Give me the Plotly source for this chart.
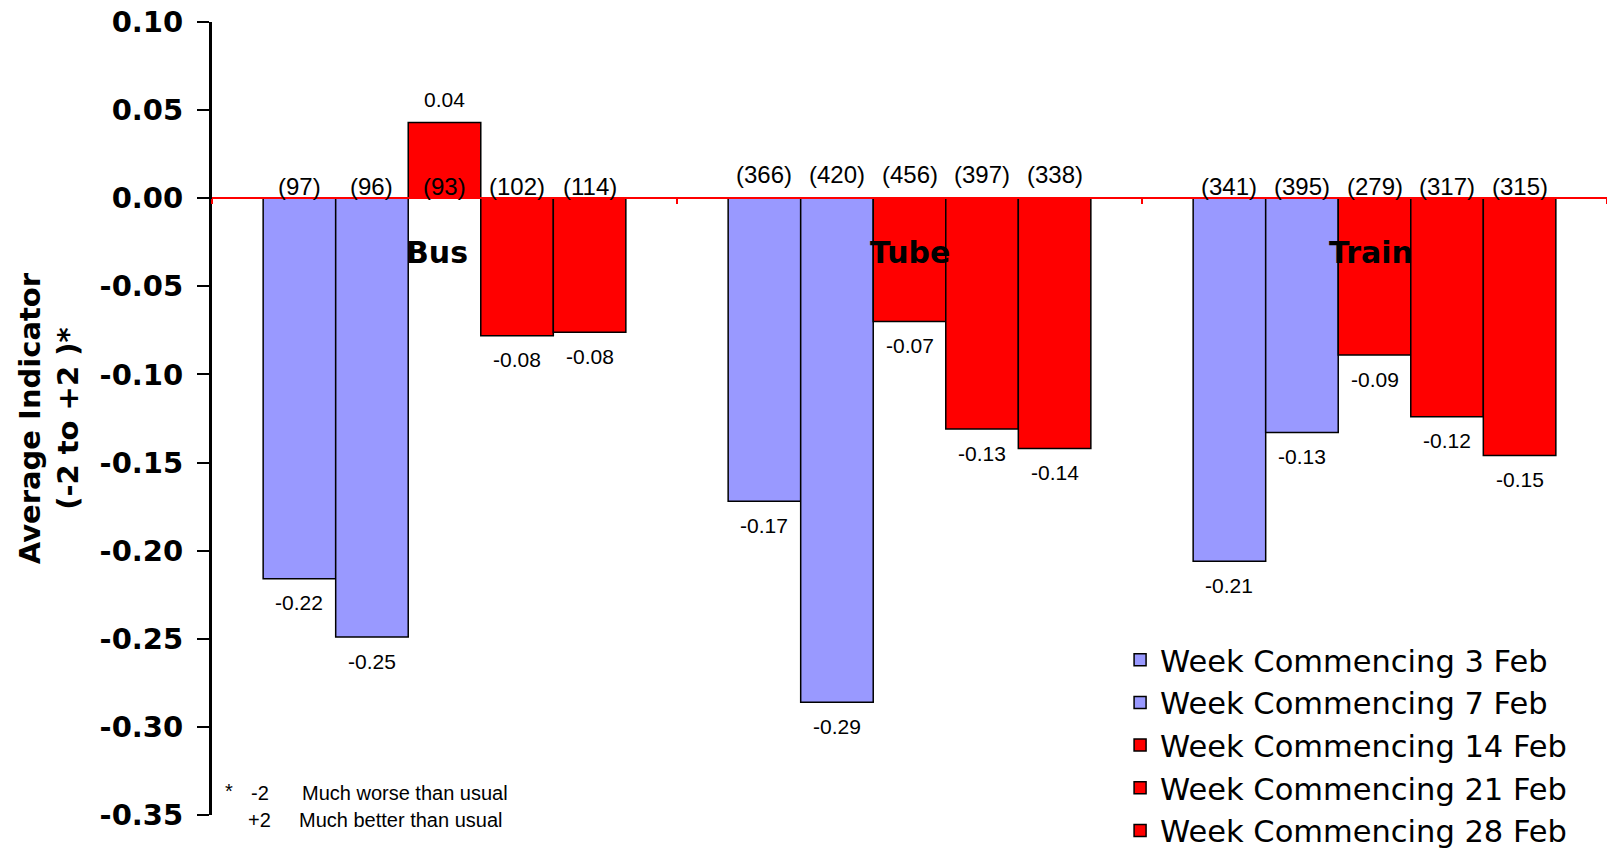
import plotly.graph_objects as go

# Mode of transport groups
categories = ["Bus", "Tube", "Train"]

# Survey weeks (legend entries)
weeks = [
    "Week Commencing 3 Feb",
    "Week Commencing 7 Feb",
    "Week Commencing 14 Feb",
    "Week Commencing 21 Feb",
    "Week Commencing 28 Feb",
]

# Average indicator per week, ordered Bus / Tube / Train
score_3feb = [-0.216, -0.172, -0.206]
score_7feb = [-0.249, -0.286, -0.133]
score_14feb = [0.043, -0.070, -0.089]
score_21feb = [-0.078, -0.131, -0.124]
score_28feb = [-0.076, -0.142, -0.146]

# Number of respondents per week, ordered Bus / Tube / Train
n_3feb = [97, 366, 341]
n_7feb = [96, 420, 395]
n_14feb = [93, 456, 279]
n_21feb = [102, 397, 317]
n_28feb = [114, 338, 315]

# Y axis ticks
tick_values = [0.10, 0.05, 0.00, -0.05, -0.10, -0.15, -0.20, -0.25, -0.30, -0.35]
tick_labels = ["0.10", "0.05", "0.00", "-0.05", "-0.10", "-0.15", "-0.20", "-0.25", "-0.30", "-0.35"]

scores = [score_3feb, score_7feb, score_14feb, score_21feb, score_28feb]
counts = [n_3feb, n_7feb, n_14feb, n_21feb, n_28feb]
colors = ["#9999FF", "#9999FF", "#FF0000", "#FF0000", "#FF0000"]

Y_MIN, Y_MAX = -0.35, 0.10
BARGAP = 0.22
n_series = len(weeks)
bar_w = (1 - BARGAP) / n_series

REG = "Liberation Sans"
BOLD = "DejaVu Sans"

fig = go.Figure()
for name, vals, col in zip(weeks, scores, colors):
    fig.add_trace(go.Bar(
        name=name,
        x=categories,
        y=vals,
        marker=dict(color=col, line=dict(color="black", width=1.5)),
        hoverinfo="skip",
    ))

annotations = []
# value and sample-size labels for each bar
count_shift = {"Bus": 12, "Tube": 24, "Train": 12}
for j, (vals, ns) in enumerate(zip(scores, counts)):
    for i, cat in enumerate(categories):
        xpos = i + (j - (n_series - 1) / 2) * bar_w
        v = vals[i]
        annotations.append(dict(
            x=xpos, y=v, xref="x", yref="y",
            text=f"{v:.2f}", showarrow=False,
            yanchor="middle", yshift=23 if v > 0 else -24,
            font=dict(family=REG, size=21, color="black"),
        ))
        annotations.append(dict(
            x=xpos, y=0, xref="x", yref="y",
            text=f"({ns[i]})", showarrow=False,
            yanchor="middle", yshift=count_shift[cat],
            font=dict(family=REG, size=24, color="black"),
        ))

# category names drawn inside the plot, below the zero line
name_xshift = {"Bus": -8, "Tube": 0, "Train": -4}
for i, cat in enumerate(categories):
    annotations.append(dict(
        x=i, y=0, xref="x", yref="y", text=cat, showarrow=False,
        yanchor="middle", yshift=-54, xshift=name_xshift[cat],
        font=dict(family=BOLD, size=30, color="black", weight="bold"),
    ))

# y axis title
annotations.append(dict(
    x=-0.117, y=0.5, xref="paper", yref="paper",
    text="Average Indicator<br>(-2 to +2 )*", textangle=-90, showarrow=False,
    xanchor="center", yanchor="middle",
    font=dict(family=BOLD, size=29, color="black", weight="bold"),
))

# scale footnote
foot_font = dict(family=REG, size=20, color="black")
for txt, px, py in [
    ("*", 223, 0.030), ("-2", 249, 0.028), ("Much worse than usual", 300, 0.028),
    ("+2", 246, -0.006), ("Much better than usual", 297, -0.006),
]:
    annotations.append(dict(
        x=(px - 212) / 1395, y=py, xref="paper", yref="paper", text=txt,
        showarrow=False, xanchor="left", yanchor="middle", font=foot_font,
    ))

fig.update_layout(
    width=1607, height=848,
    margin=dict(l=212, r=0, t=22, b=33, autoexpand=False),
    paper_bgcolor="white", plot_bgcolor="white",
    barmode="group", bargap=BARGAP, bargroupgap=0,
    annotations=annotations,
    legend=dict(
        xref="container", yref="container",
        x=0.697, y=0.253, xanchor="left", yanchor="top",
        font=dict(family="DejaVu Sans", size=30.5, color="black"),
        bgcolor="rgba(0,0,0,0)", tracegroupgap=0,
    ),
    xaxis=dict(
        type="category", anchor="free", position=(0 - Y_MIN) / (Y_MAX - Y_MIN),
        showline=True, linecolor="#FF0000", linewidth=2,
        ticks="outside", tickson="boundaries", tickcolor="#FF0000", ticklen=5, tickwidth=2,
        showticklabels=False, showgrid=False, zeroline=False,
    ),
    yaxis=dict(
        range=[Y_MIN, Y_MAX], tickvals=tick_values, ticktext=tick_labels,
        showline=True, linecolor="black", linewidth=3,
        ticks="outside", ticklen=12, tickwidth=2, tickcolor="black",
        ticklabelstandoff=8,
        showgrid=False, zeroline=False,
        tickfont=dict(family=BOLD, size=29, color="black", weight="bold"),
    ),
)

fig.write_html("out.html")
